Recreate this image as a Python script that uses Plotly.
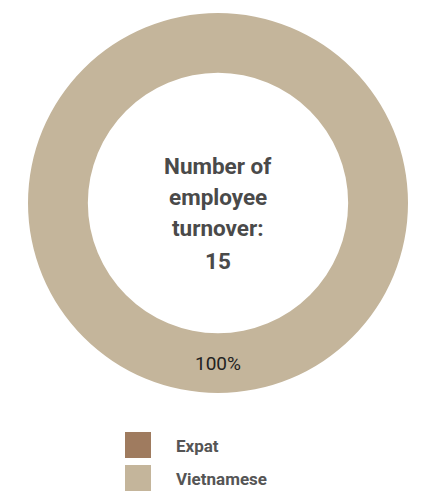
import plotly.graph_objects as go

# Employee turnover split by group
categories = ["Expat", "Vietnamese"]
turnover_counts = [0, 15]
slice_colors = ["#9f7b5f", "#c4b59b"]
total_turnover = sum(turnover_counts)
center_lines = ["Number of", "employee", "turnover:", f"{total_turnover}"]

W, H = 424, 498

def px(x):
    return x / W

def py(y):
    return 1 - y / H

cx, cy, r = 218, 203, 190

fig = go.Figure(
    go.Pie(
        labels=categories,
        values=turnover_counts,
        hole=0.685,
        sort=False,
        direction="clockwise",
        rotation=0,
        marker=dict(colors=slice_colors, line=dict(width=0)),
        textinfo="percent",
        texttemplate="%{percent:.0%}",
        textposition="inside",
        insidetextorientation="horizontal",
        insidetextfont=dict(family="Roboto", size=19, color="#222222"),
        showlegend=False,
        hoverinfo="label+value+percent",
        domain=dict(x=[px(cx - r), px(cx + r)], y=[py(cy + r), py(cy - r)]),
    )
)

annotations = []
# Center caption, one annotation per line for wider leading
line_y = [166, 197, 228, 261]
for txt, yy in zip(center_lines, line_y):
    annotations.append(dict(
        x=px(cx), y=py(yy), xref="paper", yref="paper",
        text=f"<b>{txt}</b>", showarrow=False,
        xanchor="center", yanchor="middle",
        font=dict(family="Roboto", size=22.5, color="#4a4a4a"),
    ))

# Custom legend with large square swatches
shapes = []
leg_x0, sw = 125, 26
leg_y = [432, 465]
for name, col, y0 in zip(categories, slice_colors, leg_y):
    shapes.append(dict(
        type="rect", xref="paper", yref="paper",
        x0=px(leg_x0), x1=px(leg_x0 + sw), y0=py(y0 + sw), y1=py(y0),
        fillcolor=col, line=dict(width=0),
    ))
    annotations.append(dict(
        x=px(174), y=py(y0 + sw / 2 + 1), xref="paper", yref="paper",
        text=f"<b>{name}</b>", showarrow=False,
        xanchor="left", yanchor="middle",
        font=dict(family="Roboto", size=17, color="#555555"),
    ))

fig.update_layout(
    width=W, height=H,
    margin=dict(l=0, r=0, t=0, b=0),
    paper_bgcolor="white",
    plot_bgcolor="white",
    annotations=annotations,
    shapes=shapes,
)

fig.write_html("out.html")
